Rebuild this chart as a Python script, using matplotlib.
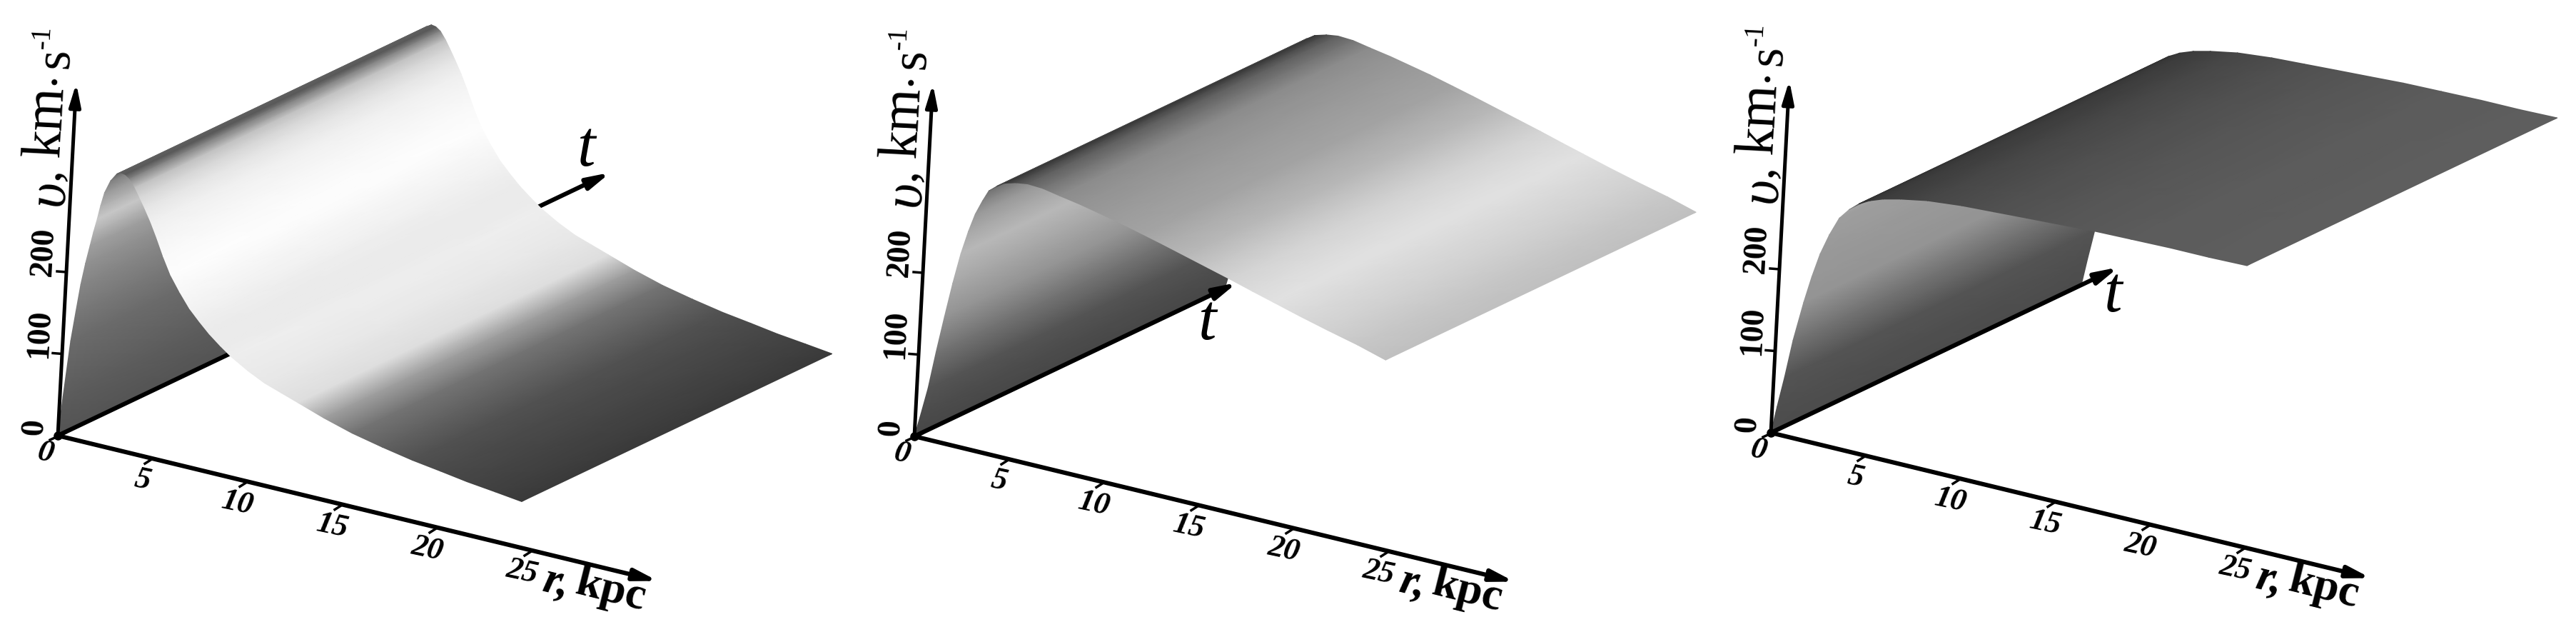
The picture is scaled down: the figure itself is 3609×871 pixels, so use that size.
import numpy as np
import matplotlib
matplotlib.use('Agg')
import matplotlib.pyplot as plt

plt.rcParams['font.family'] = ['Liberation Serif', 'DejaVu Serif']

W, H = 3609, 871

r1 = [0, .16, .41, .6, .78, .97, 1.16, 1.3, 1.46, 1.6, 1.77, 2.05, 2.35, 2.57, 2.8, 3.05, 3.34, 3.6, 3.9, 4.25, 4.6, 5, 5.43, 5.95, 6.5, 7.05, 7.6, 8.2, 8.8, 9.7, 10.6, 11.5, 12.4, 13.8, 15.3, 16.9, 18.5, 20, 21.4, 22.9, 24.3]
v1 = [0, 48, 118, 155, 189, 216, 239, 256, 273, 290, 307, 323, 333, 336, 335, 331, 322, 312, 300, 285, 268, 247, 227, 209, 192, 179, 167, 156, 146, 134, 124, 117, 110, 99, 89, 81, 74, 69, 64, 60, 56]
g1 = [.33, .36, .42, .47, .52, .57, .62, .7, .78, .69, .6, .5, .4, .37, .35, .52, .76, .84, .9, .94, .96, .98, .99, .97, .95, .93, .92, .92, .93, .92, .91, .89, .87, .62, .45, .38, .32, .29, .27, .25, .23]

r2 = [0, .28, .58, .9, 1.24, 1.58, 1.92, 2.25, 2.56, 2.9, 3.2, 3.6, 4.0, 4.6, 5.2, 6, 6.9, 8, 9, 10.1, 11.3, 12.4, 13.6, 14.8, 16, 17.2, 18.3, 19.7, 21.2, 22.8, 24.3]
v2 = [0, 29, 62, 108, 153, 196, 234, 263, 286, 304, 318, 326, 332, 336, 338, 337, 333, 328.5, 323.5, 318, 311, 304.5, 297, 289.5, 282, 274, 267, 258, 249, 240, 230]
g2 = [.28, .3, .33, .45, .58, .66, .72, .66, .6, .52, .45, .32, .22, .3, .38, .46, .55, .58, .6, .62, .64, .68, .72, .78, .83, .86, .88, .85, .82, .78, .75]

r3 = [0, .25, .56, .9, 1.35, 1.7, 2.07, 2.5, 2.97, 3.45, 3.95, 4.5, 5.2, 6.09, 7.5, 9.3, 11, 12.7, 14.5, 16.2, 18.2, 20.3, 22.3, 24.3]
v3 = [0, 33, 71, 118, 167, 200, 230, 256, 279, 292, 302, 309, 315, 320, 326, 330, 332, 334, 336, 338, 339, 340, 340, 341]
g3 = [.3, .31, .33, .45, .58, .59, .6, .61, .62, .64, .2, .22, .24, .25, .28, .3, .32, .33, .34, .35, .36, .36, .37, .37]

split_nodes = [13, 10, 10]
origins = [(81, 610), (1281, 611), (2481, 606)]
panel_lefts = [0, 1200, 2400]
panel_widths = [1200, 1200, 1209]

t_edges = [0, 1]
t_tips = [1.78, 1.04, 1.12]
t_labels_xy = [(822, 210), (1692, 453), (2961, 414)]

r_ticks = [5, 10, 15, 20, 25]
v_ticks = [100, 200]
r_tip = 31.6
v_tip = 431

# screen vectors of one unit along each axis, in pixels
er = (26.6, 6.44)
et = (435., -207.)
ev = (.06, -1.145)


def project(r, t, v, origin):
    x = origin[0] + np.asarray(r) * er[0] + np.asarray(t) * et[0] + np.asarray(v) * ev[0]
    y = origin[1] + np.asarray(r) * er[1] + np.asarray(t) * et[1] + np.asarray(v) * ev[1]
    return x, y


def patch(ax, r, v, g, origin, z):
    rr, tt = np.meshgrid(r, t_edges)
    vv = np.vstack([v, v])
    cc = np.vstack([g, g])
    x, y = project(rr, tt, vv, origin)
    ax.pcolormesh(x, y, cc, shading='gouraud', cmap='gray', vmin=0, vmax=1, zorder=z)


def arrow(ax, start, tip, z, lw=4.4):
    ax.annotate('', xy=tip, xytext=start, zorder=z,
                arrowprops=dict(arrowstyle='-|>,head_length=.95,head_width=.24', color='k',
                                lw=lw, shrinkA=0, shrinkB=0, mutation_scale=20))


def draw_panel(ax, r, v, g, split, origin, t_tip, t_xy):
    ox, oy = origin
    # part of the surface seen from inside, then the t axis, then the part in front of it
    patch(ax, r[:split + 1], v[:split + 1], g[:split + 1], origin, 1)
    arrow(ax, project(0, 0, 0, origin), project(0, t_tip, 0, origin), 2)
    patch(ax, r[split:], v[split:], g[split:], origin, 3)

    arrow(ax, project(0, 0, 0, origin), project(0, 0, v_tip, origin), 4, lw=3.6)
    arrow(ax, project(0, 0, 0, origin), project(r_tip, 0, 0, origin), 4)
    ax.plot([ox], [oy], 'o', color='k', ms=8, zorder=5)
    ax.plot([ox - 11, ox + 11], [oy + 6, oy - 4], color='k', lw=2.5, zorder=5)

    for rt in r_ticks:
        x, y = project(rt, 0, 0, origin)
        ax.plot([x, x - 11], [y, y + 7], color='k', lw=2.5, zorder=4)
        ax.text(x - 14, y + 30, str(rt), fontsize=32, fontweight='bold', fontstyle='italic',
                rotation=-12, ha='center', va='center', zorder=6)
    ax.text(ox - 17, oy + 25, '0', fontsize=32, fontweight='bold', fontstyle='italic',
            rotation=-12, ha='center', va='center', zorder=6)

    for vt in v_ticks:
        x, y = project(0, 0, vt, origin)
        ax.plot([x, x - 13], [y, y - 1], color='k', lw=2.5, zorder=4)
        ax.text(x - 31, y - 28, str(vt), fontsize=33, fontweight='bold',
                rotation=87, ha='center', va='center', zorder=6)
    ax.text(ox - 32, oy - 12, '0', fontsize=33, fontweight='bold',
            rotation=87, ha='center', va='center', zorder=6)

    # axis titles
    ax.text(ox - 11, oy - 340, 'υ', fontsize=56, fontstyle='italic',
            rotation=87, ha='center', va='center', zorder=6)
    ax.text(ox - 16, oy - 366, ',', fontsize=50, rotation=87, ha='center', va='center', zorder=6)
    ax.text(ox - 14, oy - 440, 'km', fontsize=56, rotation=87, ha='center', va='center', zorder=6)
    ax.text(ox - 5, oy - 502, '·', fontsize=50, rotation=87, ha='center', va='center', zorder=6)
    ax.text(ox - 3, oy - 529, 's', fontsize=52, rotation=87, ha='center', va='center', zorder=6)
    ax.text(ox - 21, oy - 558, '-1', fontsize=28, rotation=87, ha='center', va='center', zorder=6)

    ax.text(ox + 699, oy + 207, 'r,', fontsize=46, fontweight='bold', fontstyle='italic',
            rotation=-14, ha='center', va='center', zorder=6)
    ax.text(ox + 775, oy + 218, 'kpc', fontsize=46, fontweight='bold',
            rotation=-14, ha='center', va='center', zorder=6)

    ax.text(t_xy[0], t_xy[1], 't', fontsize=66, fontstyle='italic', ha='center', va='center', zorder=6)


fig = plt.figure(figsize=(W / 100, H / 100), dpi=100)
curves = [(r1, v1, g1), (r2, v2, g2), (r3, v3, g3)]
for i in range(3):
    ax = fig.add_axes([panel_lefts[i] / W, 0, panel_widths[i] / W, 1])
    ax.set_xlim(panel_lefts[i], panel_lefts[i] + panel_widths[i])
    ax.set_ylim(H, 0)
    ax.axis('off')
    r, v, g = curves[i]
    draw_panel(ax, r, v, g, split_nodes[i], origins[i], t_tips[i], t_labels_xy[i])

fig.savefig('out.png', dpi=100, facecolor='white')
